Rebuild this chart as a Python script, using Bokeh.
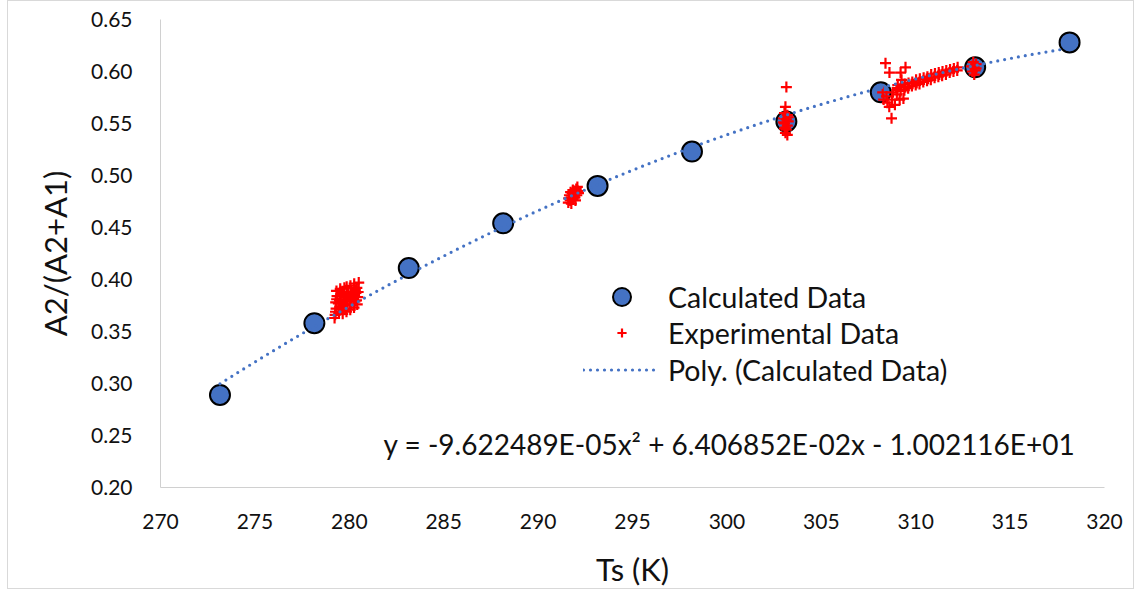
import numpy as np
from bokeh.plotting import figure
from bokeh.models import Legend, LegendItem, Label, Range1d, FixedTicker, NumeralTickFormatter
from bokeh.embed import file_html
from bokeh.resources import INLINE

# ---------------- data ----------------
calc_T = [273.15, 278.15, 283.15, 288.15, 293.15, 298.15, 303.15, 308.15, 313.15, 318.15]
calc_ratio = [0.289, 0.358, 0.411, 0.454, 0.490, 0.523, 0.552, 0.580, 0.604, 0.628]

exp_T_280 = [279.25, 279.30, 279.28, 279.35, 279.32, 279.27, 279.33, 279.22,
             279.45, 279.50, 279.48, 279.55, 279.52, 279.42, 279.58,
             279.65, 279.70, 279.68, 279.72, 279.66, 279.74, 279.62, 279.78,
             279.85, 279.90, 279.88, 279.93, 279.86, 279.82, 279.96,
             280.05, 280.10, 280.08, 280.12, 280.06, 280.02, 280.15,
             280.25, 280.30, 280.28, 280.32, 280.26, 280.22, 280.35,
             280.42, 280.45, 280.40, 280.47, 280.38, 280.50]
exp_r_280 = [0.366, 0.372, 0.378, 0.384, 0.389, 0.369, 0.381, 0.363,
             0.368, 0.374, 0.380, 0.386, 0.391, 0.377, 0.371,
             0.367, 0.371, 0.377, 0.383, 0.388, 0.392, 0.374, 0.380,
             0.369, 0.375, 0.381, 0.387, 0.393, 0.372, 0.384,
             0.371, 0.376, 0.382, 0.388, 0.394, 0.379, 0.385,
             0.373, 0.379, 0.385, 0.390, 0.396, 0.382, 0.387,
             0.376, 0.383, 0.392, 0.388, 0.380, 0.397]

exp_T_292 = [291.60, 291.62, 291.66, 291.70, 291.75, 291.80, 291.85, 291.90, 291.88,
             291.95, 292.00, 292.02, 292.05, 292.10, 292.08, 291.76, 291.84, 292.14,
             291.72, 291.98]
exp_r_292 = [0.474, 0.478, 0.481, 0.476, 0.479, 0.483, 0.477, 0.481, 0.485,
             0.479, 0.483, 0.487, 0.481, 0.485, 0.489, 0.473, 0.486, 0.483,
             0.484, 0.476]

exp_T_303 = [303.15, 303.10, 303.05, 303.20, 303.00, 303.15, 303.25, 303.05,
             303.20, 303.10, 303.00, 303.15, 303.10, 303.20, 303.05, 303.25]
exp_r_303 = [0.585, 0.566, 0.560, 0.558, 0.555, 0.554, 0.552, 0.550,
             0.548, 0.546, 0.551, 0.544, 0.541, 0.539, 0.545, 0.556]

exp_T_308 = [308.40, 308.61, 309.46, 309.20, 309.25, 309.05, 309.35, 308.72, 308.25,
             308.30, 308.50, 308.75, 308.90, 309.15, 308.80, 309.00, 308.45, 308.60]
exp_r_308 = [0.608, 0.599, 0.604, 0.599, 0.592, 0.587, 0.574, 0.555, 0.580,
             0.573, 0.570, 0.573, 0.568, 0.573, 0.580, 0.582, 0.576, 0.566]

exp_T_311 = [309.00, 309.02, 309.20, 309.22, 309.40, 309.42, 309.45, 309.60, 309.62, 309.80,
             309.82, 310.00, 310.02, 310.05, 310.20, 310.22, 310.40, 310.42, 310.60, 310.62,
             310.65, 310.80, 310.82, 311.00, 311.02, 311.20, 311.22, 311.25, 311.40, 311.42,
             311.60, 311.62, 311.80, 311.82, 312.00, 312.02, 312.20, 312.22]
exp_r_311 = [0.578, 0.584, 0.581, 0.586, 0.582, 0.588, 0.585, 0.584, 0.589, 0.586,
             0.590, 0.587, 0.592, 0.589, 0.588, 0.593, 0.590, 0.594, 0.591, 0.595,
             0.593, 0.592, 0.597, 0.594, 0.598, 0.595, 0.599, 0.597, 0.596, 0.600,
             0.597, 0.601, 0.599, 0.602, 0.600, 0.603, 0.601, 0.604]

exp_T_313 = [313.00, 313.10, 313.20, 313.05, 313.15, 313.10, 313.20, 312.95]
exp_r_313 = [0.600, 0.604, 0.607, 0.609, 0.601, 0.597, 0.603, 0.605]

poly_coef = [-9.622489e-05, 6.406852e-02, -1.002116e+01]

x_ticks = [270, 275, 280, 285, 290, 295, 300, 305, 310, 315, 320]
y_ticks = [0.20, 0.25, 0.30, 0.35, 0.40, 0.45, 0.50, 0.55, 0.60, 0.65]

# ---------------- derived ----------------
exp_T = exp_T_280 + exp_T_292 + exp_T_303 + exp_T_308 + exp_T_311 + exp_T_313
exp_r = exp_r_280 + exp_r_292 + exp_r_303 + exp_r_308 + exp_r_311 + exp_r_313

fit_T = np.linspace(min(calc_T), max(calc_T), 300)
fit_r = np.polyval(poly_coef, fit_T)

a, b, c = poly_coef
eq_text = "y = %.6Ex\u00b2 + %.6Ex - %.6E" % (a, b, abs(c))

FONT = "Lato"
BLUE = "#4472C4"
TXT = "#111111"

p = figure(width=1127, height=589, output_backend="svg", toolbar_location=None,
           x_range=Range1d(270, 320), y_range=Range1d(0.20, 0.65),
           min_border_left=152, min_border_right=31, min_border_top=18, min_border_bottom=99,
           styles={"margin-left": "7px", "border": "1px solid #d9d9d9"})
p.outline_line_color = None
p.xgrid.grid_line_color = None
p.ygrid.grid_line_color = None
p.background_fill_color = "white"
p.border_fill_color = "white"

for ax in (p.xaxis[0], p.yaxis[0]):
    ax.axis_line_color = "#d0d0d0"
    ax.axis_line_width = 1
    ax.major_tick_line_color = None
    ax.minor_tick_line_color = None
    ax.major_label_text_font = FONT
    ax.major_label_text_font_size = "21px"
    ax.major_label_text_color = TXT
    ax.axis_label_text_font = FONT
    ax.axis_label_text_font_size = "31px"
    ax.axis_label_text_font_style = "normal"
    ax.axis_label_text_color = TXT

p.xaxis.ticker = FixedTicker(ticks=x_ticks)
p.yaxis.ticker = FixedTicker(ticks=y_ticks)
p.yaxis.formatter = NumeralTickFormatter(format="0.00")
p.xaxis.axis_label = "Ts (K)"
p.yaxis.axis_label = "A2/(A2+A1)"
p.yaxis.major_label_standoff = 22
p.xaxis.major_label_standoff = 20
p.yaxis.axis_label_standoff = 14
p.xaxis.axis_label_standoff = 18

r_calc = p.scatter(calc_T, calc_ratio, size=20, marker="circle", fill_color=BLUE,
                   line_color="black", line_width=2)
r_exp = p.scatter(exp_T, exp_r, marker="cross", size=11, line_color="#FF0000", line_width=2.2)
r_fit = p.line(fit_T, fit_r, line_color=BLUE, line_width=3.2, line_dash="0 7", line_cap="round")

eq = Label(x=318.46, y=0.242, text=eq_text, text_align="right", text_baseline="middle",
           text_font=FONT, text_font_size="28px", text_color=TXT)
p.add_layout(eq)

leg1 = Legend(items=[LegendItem(label="Calculated Data", renderers=[r_calc])],
              location=(423, 168), glyph_width=77, glyph_height=45, label_height=45,
              label_standoff=8, padding=0, margin=0, spacing=0,
              border_line_color=None, background_fill_alpha=0,
              label_text_font=FONT, label_text_font_size="28.5px", label_text_color=TXT)
leg2 = Legend(items=[LegendItem(label="Experimental Data", renderers=[r_exp]),
                     LegendItem(label="Poly. (Calculated Data)", renderers=[r_fit])],
              location=(423, 99), glyph_width=77, glyph_height=23, label_height=37,
              label_standoff=8, padding=0, margin=0, spacing=0,
              border_line_color=None, background_fill_alpha=0,
              label_text_font=FONT, label_text_font_size="28.5px", label_text_color=TXT)
p.add_layout(leg1, "center")
p.add_layout(leg2, "center")

open("out.html", "w").write(file_html(p, INLINE))
